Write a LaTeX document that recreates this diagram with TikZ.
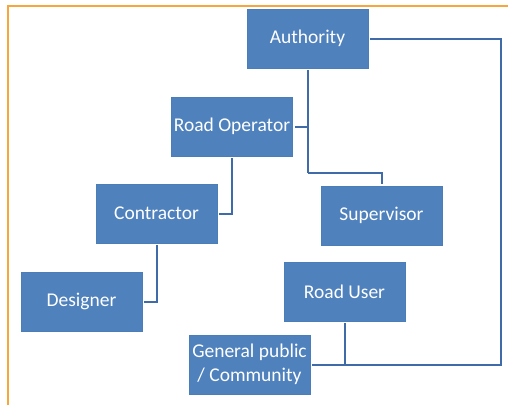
\documentclass[tikz,border=0pt]{standalone}
\usepackage{fontspec}
\setmainfont{Carlito}
\usetikzlibrary{calc}
\definecolor{boxblue}{HTML}{4F81BD}
\definecolor{boxedge}{HTML}{4A7EBB}
\definecolor{linkblue}{HTML}{3F6CA9}
\definecolor{frameorange}{HTML}{F6A63A}
\begin{document}
\begin{tikzpicture}[x=1pt,y=-1pt,
  role/.style={fill=boxblue,draw=boxedge,line width=0.6pt,text=white,
    minimum width=121pt,minimum height=59pt,inner sep=2pt,align=center,
    font=\fontsize{19.5}{24}\selectfont},
  link/.style={draw=linkblue,line width=2pt,shorten <=2pt,shorten >=2pt}]
\useasboundingbox (0,0) rectangle (508,405);
% frame along the top and left edges
\draw[frameorange,line width=2pt] (8,405) -- (8,5.5) -- (508,5.5);

% roles
\node[role] (auth) at (307.5,38.5) {Authority};
\node[role] (ro)   at (232,126.5)  {Road Operator};
\node[role] (con)  at (156.5,213.5) {Contractor};
\node[role] (des)  at (81.5,301.5) {Designer};
\node[role] (sup)  at (381.5,215.5) {Supervisor};
\node[role] (ru)   at (344.5,291.5) {Road User};
\node[role] (gp)   at (249.5,364.5) {General public\\/ Community};

% reporting lines
\coordinate (j1) at (307.5,173);
\draw[link,shorten >=0pt] (auth.south) -- (j1);
\draw[link,shorten <=0pt] (j1) -| (sup.north);
\draw[link,shorten >=0pt] (ro.east) -- (ro.east -| auth.south);
\draw[link] (ro.south) |- (con.east);
\draw[link] (con.south) |- (des.east);
\coordinate (rt) at (501,0);
\draw[link] (auth.east) -| (rt |- gp.east) -- (gp.east);
\draw[link,shorten >=0pt] (ru.south) -- (ru.south |- gp.east);
\end{tikzpicture}
\end{document}
